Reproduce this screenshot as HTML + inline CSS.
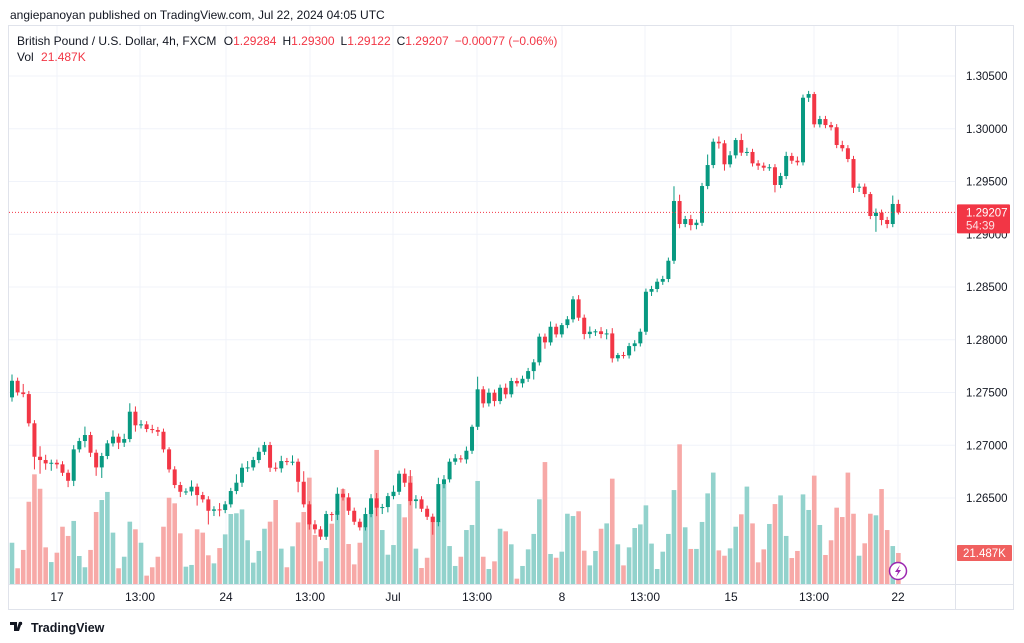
<!DOCTYPE html>
<html><head><meta charset="utf-8"><style>
html,body{margin:0;padding:0;background:#fff;width:1024px;height:643px;overflow:hidden;font-family:"Liberation Sans",sans-serif;}
svg{position:absolute;left:0;top:0;}
</style></head><body>
<svg id="chart" width="1024" height="643" viewBox="0 0 1024 643"></svg>
<script>
const firstOpen = 1.27454;
const closes = [1.27611,1.27501,1.27485,1.27208,1.26891,1.26860,1.26828,1.26834,1.26819,1.26739,
1.26663,1.26961,1.27040,1.27097,1.26929,1.26790,1.26898,1.27018,1.27081,1.27024,
1.27059,1.27318,1.27189,1.27198,1.27154,1.27144,1.27128,1.26961,1.26771,1.26623,
1.26559,1.26562,1.26607,1.26528,1.26487,1.26379,1.26392,1.26386,1.26440,1.26566,
1.26645,1.26787,1.26790,1.26860,1.26938,1.27002,1.26787,1.26781,1.26850,1.26841,
1.26844,1.26654,1.26440,1.26250,1.26203,1.26133,1.26348,1.26341,1.26540,1.26506,
1.26379,1.26275,1.26222,1.26348,1.26497,1.26408,1.26414,1.26518,1.26559,1.26730,
1.26645,1.26471,1.26487,1.26398,1.26322,1.26272,1.26632,1.26677,1.26844,1.26876,
1.26866,1.26948,1.27175,1.27530,1.27397,1.27498,1.27419,1.27545,1.27483,1.27609,
1.27587,1.27630,1.27703,1.27786,1.28029,1.27975,1.28123,1.28051,1.28139,1.28194,
1.28383,1.28209,1.28054,1.28076,1.28080,1.28054,1.28060,1.27824,1.27855,1.27852,
1.27940,1.27966,1.28076,1.28455,1.28481,1.28550,1.28576,1.28749,1.29315,1.29097,
1.29144,1.29087,1.29109,1.29457,1.29656,1.29877,1.29862,1.29663,1.29748,1.29893,
1.29773,1.29780,1.29672,1.29650,1.29631,1.29635,1.29467,1.29552,1.29742,1.29697,
1.29682,1.30294,1.30329,1.30042,1.30092,1.30035,1.30014,1.29846,1.29815,1.29713,
1.29441,1.29451,1.29381,1.29173,1.29204,1.29135,1.29097,1.29287,1.29207];
// wick extensions in pips (estimated)
const wickUp = [6,3,8,3,3,10,5,3,3,3, 3,4,3,8,3,3,3,3,6,3, 5,8,5,4,3,4,3,3,2,3, 3,3,6,3,3,3,3,6,3,3, 8,4,6,3,4,3,3,5,5,3, 6,3,10,3,4,3,3,2,6,5, 4,3,3,6,4,5,3,3,6,3, 5,12,4,3,3,3,6,4,3,4, 3,4,2,12,3,4,3,3,4,3, 3,3,3,3,3,3,5,3,2,3, 3,4,3,5,2,4,4,5,2,3, 3,3,3,3,3,3,3,3,14,6, 3,4,3,3,10,3,5,3,4,2, 6,4,3,3,3,3,3,3,4,3, 4,3,3,2,3,3,3,3,4,3, 3,3,3,2,4,3,3,8,4];
const wickDn = [4,3,3,3,12,13,6,7,4,3, 6,5,3,6,4,8,10,3,3,6, 4,3,6,3,3,3,4,3,3,3, 5,3,4,10,3,13,5,6,3,3, 3,4,4,3,3,3,4,3,4,3, 3,10,3,5,4,3,3,6,5,3, 4,3,3,3,3,8,6,5,3,3, 4,4,7,3,3,12,4,4,3,3, 3,4,3,3,4,3,5,3,4,3, 3,4,3,8,3,6,3,3,3,3, 3,3,5,4,4,4,5,4,3,3, 3,5,3,3,4,3,3,3,3,4, 3,5,4,3,3,3,5,6,3,3, 3,3,3,4,3,3,7,3,3,3, 3,3,4,3,3,3,3,3,3,3, 5,4,3,3,15,5,4,3,2];
const volumes = [28.6,10.9,23.6,57,76,66,25.4,15.2,21.7,39.7,33.3,43.7,19.4,11.6,23.6,49.9,58.2,63.8,35.6,10.9,
18.9,43.2,37.9,28.6,5.8,11.6,18.9,39.7,59.8,55.9,35.1,12,13.2,37.9,35.6,19.9,14.3,24.9,34.4,48.5,
49,51.7,30.3,14.8,22.9,38.3,43.2,58.2,24.5,11.6,26.1,42.7,49.9,73.7,34,15.7,24.9,41.8,50.6,65.8,
27.7,13.6,28.6,39.3,51.3,92.9,37.4,20.3,27,55.4,46.2,74.8,24.5,11.1,18.2,46.7,43.2,69.3,26.3,12.5,
18.9,37.4,40.9,71.4,18.9,10.4,15.7,38.3,36.5,27.5,3.7,12.5,24,34.7,58.7,84.5,20.8,18.2,22.4,48.7,
47.1,50.4,23.1,12.9,22.9,38.3,42,73,27.5,12.9,25.4,38.8,41.3,54.5,28,10.4,22.4,34.7,65.1,96.8,
39.3,24.3,24.3,43,62.8,77.2,23.3,19.6,24.7,39.7,48.3,67.5,42,15,24,41.6,55.4,61.4,33.3,18,
22.9,62.1,51.3,75.1,40.9,20.1,30.3,52.9,46.4,77.2,48.7,19.6,28.2,48.7,47.6,65.8,37.4,26.3,21.487];
const priceTicks = [1.305,1.300,1.295,1.290,1.285,1.280,1.275,1.270,1.265];
const timeLabels = ["17","13:00","24","13:00","Jul","13:00","8","13:00","15","13:00","22"];
const timeLabelX = [57,140,226,310,393,477,562,645,731,814,898];

const NS="http://www.w3.org/2000/svg";
const svg=document.getElementById('chart');
function el(tag,attrs,parent){const e=document.createElementNS(NS,tag);for(const k in attrs)e.setAttribute(k,attrs[k]);(parent||svg).appendChild(e);return e;}
const yP=p=>76+(1.305-p)*10550;
const xI=i=>12+i*5.61;
const volBase=584, volScale=1/0.693;
const yV=v=>volBase-v*volScale;

// frame
let f=el('rect',{x:8.5,y:25.5,width:1005,height:584,fill:'none',stroke:'#e0e3eb'});

// grid
const grid=el('g',{stroke:'#f0f3fa','stroke-width':1});

priceTicks.forEach(p=>el('line',{x1:9,x2:955,y1:yP(p),y2:yP(p)},grid));
timeLabelX.forEach(x=>el('line',{x1:x,x2:x,y1:26,y2:584},grid));
// axes lines
let ax=el('line',{x1:955.5,x2:955.5,y1:26,y2:609,stroke:'#e0e3eb'});

let tx=el('line',{x1:9,x2:1013,y1:584.5,y2:584.5,stroke:'#e0e3eb'});


// volumes
const vg=el('g',{});
const cg=el('g',{});
let prev=firstOpen;
for(let i=0;i<closes.length;i++){
  const o=prev,c=closes[i];prev=c;
  const up=c>=o;
  const x=xI(i);
  const vb=el('rect',{x:x-2.3,y:yV(volumes[i]),width:4.6,height:volumes[i]*volScale,fill:up?'#92d2cc':'#f7a9a7'},vg);
  
  
  const col=up?'#089981':'#f23645';
  const hi=Math.max(o,c)+wickUp[i]/10000, lo=Math.min(o,c)-wickDn[i]/10000;
  const w=el('line',{x1:x,x2:x,y1:yP(hi),y2:yP(lo),stroke:col,'stroke-width':1},cg);
  
  
  const top=yP(Math.max(o,c)),h=Math.max(1,Math.abs(yP(o)-yP(c)));
  const b=el('rect',{x:x-2,y:top,width:4,height:h,fill:col},cg);
  
  
}
// last price line
const lp=closes[closes.length-1];
let pl=el('line',{x1:9,x2:955,y1:yP(lp),y2:yP(lp),stroke:'#f23645','stroke-dasharray':'1 2','stroke-width':1});


// price axis labels
const pg=el('g',{'font-size':11.5,fill:'#131722','font-family':'Liberation Sans, sans-serif'});

priceTicks.forEach(p=>{const t=el('text',{x:966,y:yP(p)+4},pg);t.textContent=p.toFixed(5);
});
// time labels
const tg=el('g',{'font-size':12,fill:'#131722','text-anchor':'middle'});

timeLabels.forEach((l,i)=>{const t=el('text',{x:timeLabelX[i],y:601},tg);t.textContent=l;
});

// last price badge
const bg=el('g',{});
el('rect',{x:957,y:yP(lp)-8,width:53,height:29,fill:'#f23645',rx:1},bg);
let t1=el('text',{x:966,y:yP(lp)+4,fill:'#fff','font-size':11.5},bg);t1.textContent=lp.toFixed(5);
let t2=el('text',{x:966,y:yP(lp)+17,fill:'#fde0e3','font-size':11.5},bg);t2.textContent='54:39';
// volume badge
const vbg=el('g',{});
el('rect',{x:957,y:545,width:55,height:16,fill:'#f0605f',rx:1},vbg);
let t3=el('text',{x:963,y:557,fill:'#fff','font-size':11.5},vbg);t3.textContent='21.487K';

// lightning icon
const lg=el('g',{});
el('circle',{cx:898,cy:571,r:8.5,fill:'#fff',stroke:'#9c27b0','stroke-width':1.5},lg);
el('path',{d:'M900 565 L895 572 L898 572 L896 577 L901 570 L898 570 Z',fill:'#9c27b0'},lg);

// header texts
function txt(x,y,s,fill,size,name){const t=el('text',{x:x,y:y,fill:fill,'font-size':size});t.textContent=s;return t;}
txt(10,19,'angiepanoyan published on TradingView.com, Jul 22, 2024 04:05 UTC','#131722',12,'publish-info');
const lgd=el('text',{x:17,y:45,'font-size':12,fill:'#131722'});

lgd.innerHTML='British Pound / U.S. Dollar, 4h, FXCM  <tspan dx="4">O</tspan><tspan fill="#f23645">1.29284</tspan><tspan dx="6">H</tspan><tspan fill="#f23645">1.29300</tspan><tspan dx="6">L</tspan><tspan fill="#f23645">1.29122</tspan><tspan dx="6">C</tspan><tspan fill="#f23645">1.29207</tspan><tspan dx="6" fill="#f23645">−0.00077 (−0.06%)</tspan>';
const vl=el('text',{x:17,y:61,'font-size':12,fill:'#131722'});

vl.innerHTML='Vol <tspan dx="4" fill="#f23645">21.487K</tspan>';
// footer logo
const fg=el('g',{});
el('path',{d:'M10 622 h7 v9 h-3 v-6 h-4 z M19 622 l3 0 l-3 9 h-3 z M24 622 h0',fill:'#131722'},fg);
el('circle',{cx:20.5,cy:623.5,r:1.7,fill:'#131722'},fg);
let ft=el('text',{x:31,y:632,'font-size':12.5,fill:'#131722','font-weight':'bold'},fg);ft.textContent='TradingView';
</script>
</body></html>
